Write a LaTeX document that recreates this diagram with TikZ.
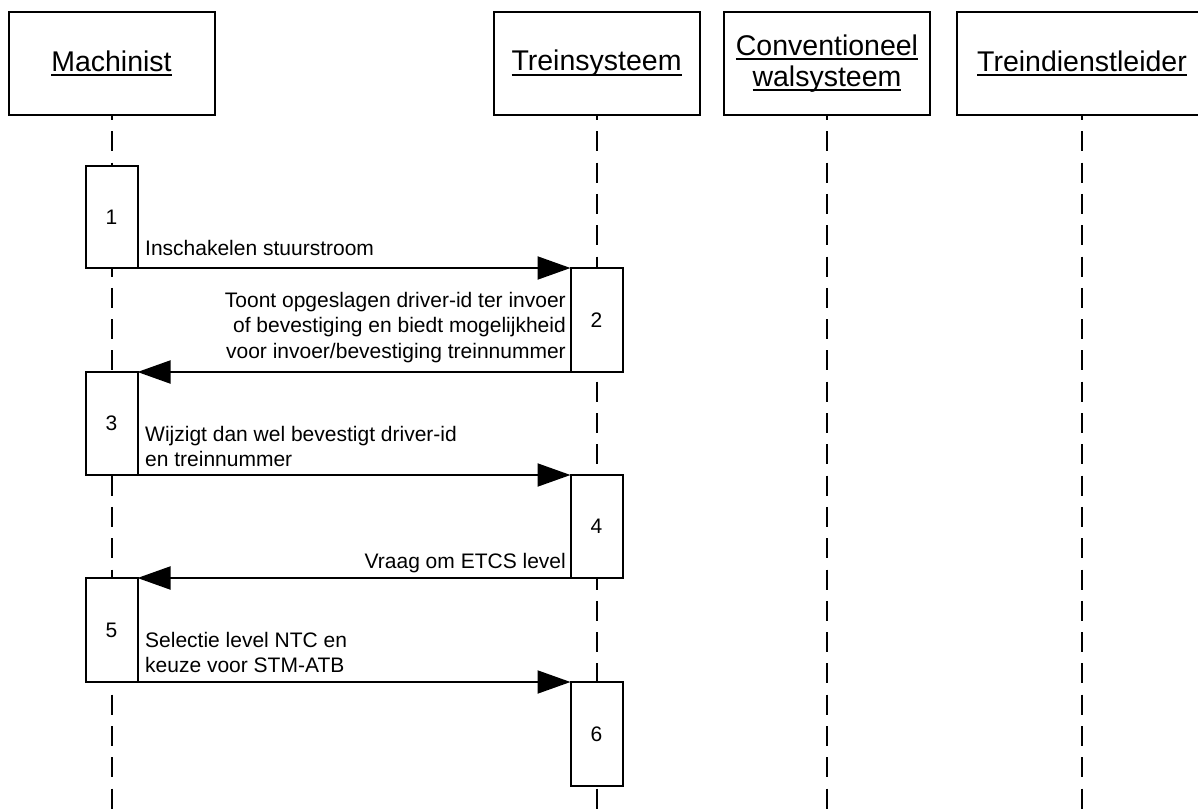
\documentclass[tikz,border=0pt]{standalone}
\usepackage{fontspec}
\setmainfont{Liberation Sans}
\usetikzlibrary{arrows.meta}
% underlined participant name with a rule a few points below the baseline
\newcommand\ulname[1]{\setbox0\hbox{#1}\rlap{\rule[-5pt]{\wd0}{2pt}}\box0}

\begin{document}
\begin{tikzpicture}[x=1pt,y=-1pt,
  actor/.style={draw, line width=2pt, minimum width=206pt, minimum height=103pt,
    inner sep=0pt, outer sep=0pt, font=\fontsize{28.5}{31}\selectfont, align=center},
  act/.style={draw, fill=white, line width=2pt, minimum width=52pt, inner sep=0pt,
    outer sep=0pt, font=\fontsize{21}{25}\selectfont},
  lifeline/.style={line width=2pt, dash pattern=on 20pt off 11.3pt, dash phase=15pt},
  msg/.style={line width=2pt, -{Triangle[length=33pt,width=23pt]}},
  lbl/.style={inner sep=0pt, font=\fontsize{21}{25.5}\selectfont},
]
\useasboundingbox (0,0) rectangle (1198,808);
\clip (0,0) rectangle (1198,808);

% participants
\node[actor] (mach)  at (111.5,63.5) {\ulname{Machinist}};
\node[actor] (trein) at (596.5,63.5) {\ulname{Treinsysteem}};
\node[actor] (conv)  at (827,63.5)   {\ulname{Conventioneel}\\\ulname{walsysteem}};
\node[actor, minimum width=250pt] (tdl) at (1082,63.5) {\ulname{Treindienstleider}};

% lifelines
\coordinate (floor) at (0,812);
\draw[lifeline] (mach.south)  -- (mach.south |- floor);
\draw[lifeline] (trein.south) -- (trein.south |- floor);
\draw[lifeline] (conv.south)  -- (conv.south |- floor);
\draw[lifeline] (tdl.south)   -- (tdl.south |- floor);

% activation boxes
\node[act, minimum height=102pt] (a1) at (111.5,217)   {1};
\node[act, minimum height=104pt] (a2) at (596.5,320)   {2};
\node[act, minimum height=103pt] (a3) at (111.5,423.5) {3};
\node[act, minimum height=103pt] (a4) at (596.5,526.5) {4};
\node[act, minimum height=104pt] (a5) at (111.5,630)   {5};
\node[act, minimum height=104pt] (a6) at (596.5,734)   {6};

% messages
\draw[msg] (a1.south east) -- (a2.north west);
\draw[msg] (a2.south west) -- (a3.north east);
\draw[msg] (a3.south east) -- (a4.north west);
\draw[msg] (a4.south west) -- (a5.north east);
\draw[msg] (a5.south east) -- (a6.north west);

% message texts
\node[lbl, anchor=south west] (m1) at (145,256) {Inschakelen stuurstroom};
\node[lbl, anchor=south east, align=right] (m2) at (566,363)
  {Toont opgeslagen driver-id ter invoer\\of bevestiging en biedt mogelijkheid\\voor invoer/bevestiging treinnummer};
\node[lbl, anchor=south west, align=left] (m3) at (145,467)
  {Wijzigt dan wel bevestigt driver-id\\en treinnummer};
\node[lbl, anchor=south east] (m4) at (566,573.5) {Vraag om ETCS level};
\node[lbl, anchor=south west, align=left] (m5) at (145,673)
  {Selectie level NTC en\\keuze voor STM-ATB};
\end{tikzpicture}
\end{document}
